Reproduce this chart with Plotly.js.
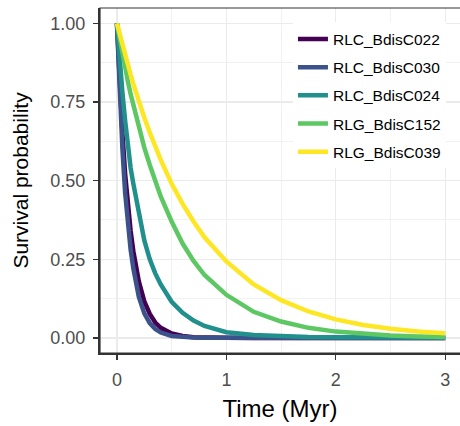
<!DOCTYPE html>
<html>
<head>
<meta charset="utf-8">
<script src="https://cdn.plot.ly/plotly-3.0.1.min.js"></script>
<style>html,body{margin:0;padding:0;background:#fff;}#chart{width:460px;height:426px;}</style>
</head>
<body>
<div id="chart"></div>
<script>
const time = [0, 0.025, 0.05, 0.075, 0.1, 0.125, 0.15, 0.2, 0.25, 0.3, 0.35, 0.4, 0.5, 0.6, 0.7, 0.8, 1.0, 1.25, 1.5, 1.75, 2.0, 2.25, 2.5, 2.75, 3.0];

const seriesNames = ["RLC_BdisC022", "RLC_BdisC030", "RLC_BdisC024", "RLG_BdisC152", "RLG_BdisC039"];
const seriesColors = ["#440154", "#3B528B", "#21908C", "#5DC863", "#FDE725"];

const survC022 = [1, 0.81, 0.65, 0.52, 0.42, 0.34, 0.275, 0.18, 0.116, 0.076, 0.049, 0.032, 0.014, 0.006, 0.0024, 0.001, 0.0002, 0, 0, 0, 0, 0, 0, 0, 0];
const survC030 = [1, 0.77, 0.60, 0.46, 0.36, 0.28, 0.22, 0.13, 0.078, 0.047, 0.028, 0.017, 0.006, 0.002, 0.001, 0.0003, 0, 0, 0, 0, 0, 0, 0, 0, 0];
const survC024 = [1, 0.88, 0.78, 0.69, 0.61, 0.54, 0.49, 0.39, 0.31, 0.25, 0.205, 0.17, 0.115, 0.08, 0.055, 0.038, 0.018, 0.009, 0.005, 0.003, 0.002, 0.0013, 0.001, 0.0007, 0.0005];
const survC152 = [1, 0.95, 0.905, 0.86, 0.815, 0.775, 0.74, 0.67, 0.605, 0.55, 0.495, 0.45, 0.37, 0.30, 0.245, 0.20, 0.137, 0.083, 0.052, 0.032, 0.02, 0.012, 0.0075, 0.0045, 0.003];
const survC039 = [1, 0.965, 0.93, 0.90, 0.868, 0.837, 0.808, 0.752, 0.70, 0.653, 0.608, 0.566, 0.49, 0.426, 0.37, 0.32, 0.243, 0.17, 0.12, 0.084, 0.059, 0.041, 0.029, 0.02, 0.015];

const xTickVals = [0, 1, 2, 3];
const xTickText = ["0", "1", "2", "3"];
const yTickVals = [0, 0.25, 0.5, 0.75, 1];
const yTickText = ["0.00", "0.25", "0.50", "0.75", "1.00"];

const allSurv = [survC022, survC030, survC024, survC152, survC039];

const traces = allSurv.map((vals, i) => ({
  x: time,
  y: vals,
  type: "scatter",
  mode: "lines",
  name: seriesNames[i],
  legendgroup: "g" + i,
  line: {color: seriesColors[i], width: 4.5},
  hoverinfo: "skip"
}));

const fontFam = "Liberation Sans, Arial, sans-serif";

const layout = {
  width: 460,
  height: 426,
  margin: {l: 100, r: 0, t: 8, b: 73, pad: 0},
  paper_bgcolor: "#ffffff",
  plot_bgcolor: "#ffffff",
  font: {family: fontFam, color: "#000000"},
  showlegend: true,
  legend: {
    x: 0.536, y: 0.958, xanchor: "left", yanchor: "top",
    bgcolor: "#ffffff",
    font: {family: fontFam, size: 15.5, color: "#000000"},
    tracegroupgap: 5,
    traceorder: "grouped",
    itemwidth: 30
  },
  xaxis: {
    range: [-0.155, 3.135],
    tickvals: xTickVals,
    ticktext: xTickText,
    ticks: "outside",
    ticklen: 5,
    tickwidth: 1.2,
    tickcolor: "#333333",
    ticklabelstandoff: 4,
    tickfont: {family: fontFam, size: 18, color: "#4D4D4D"},
    showgrid: true,
    gridcolor: "#EBEBEB",
    gridwidth: 1.2,
    minor: {dtick: 0.5, tick0: 0, showgrid: true, gridcolor: "#EBEBEB", gridwidth: 0.7},
    zeroline: false,
    showline: true,
    linecolor: "#333333",
    linewidth: 2,
    title: {text: "Time (Myr)", font: {family: fontFam, size: 24, color: "#000000"}, standoff: 12},
    automargin: false
  },
  yaxis: {
    range: [-0.048, 1.049],
    tickvals: yTickVals,
    ticktext: yTickText,
    ticks: "outside",
    ticklen: 5,
    tickwidth: 1.2,
    tickcolor: "#333333",
    ticklabelstandoff: 4,
    tickfont: {family: fontFam, size: 18, color: "#4D4D4D"},
    showgrid: true,
    gridcolor: "#EBEBEB",
    gridwidth: 1.2,
    minor: {dtick: 0.125, tick0: 0, showgrid: true, gridcolor: "#EBEBEB", gridwidth: 0.7},
    zeroline: false,
    showline: true,
    linecolor: "#333333",
    linewidth: 2,
    title: {text: "Survival probability", font: {family: fontFam, size: 21, color: "#000000"}, standoff: 16},
    automargin: false
  },
  shapes: [{
    type: "rect", xref: "paper", yref: "paper",
    x0: 0, x1: 1.01, y0: 0, y1: 1,
    line: {color: "#333333", width: 1.2},
    fillcolor: "rgba(0,0,0,0)",
    layer: "above"
  }]
};

Plotly.newPlot("chart", traces, layout, {displayModeBar: false, staticPlot: true});
</script>
</body>
</html>
